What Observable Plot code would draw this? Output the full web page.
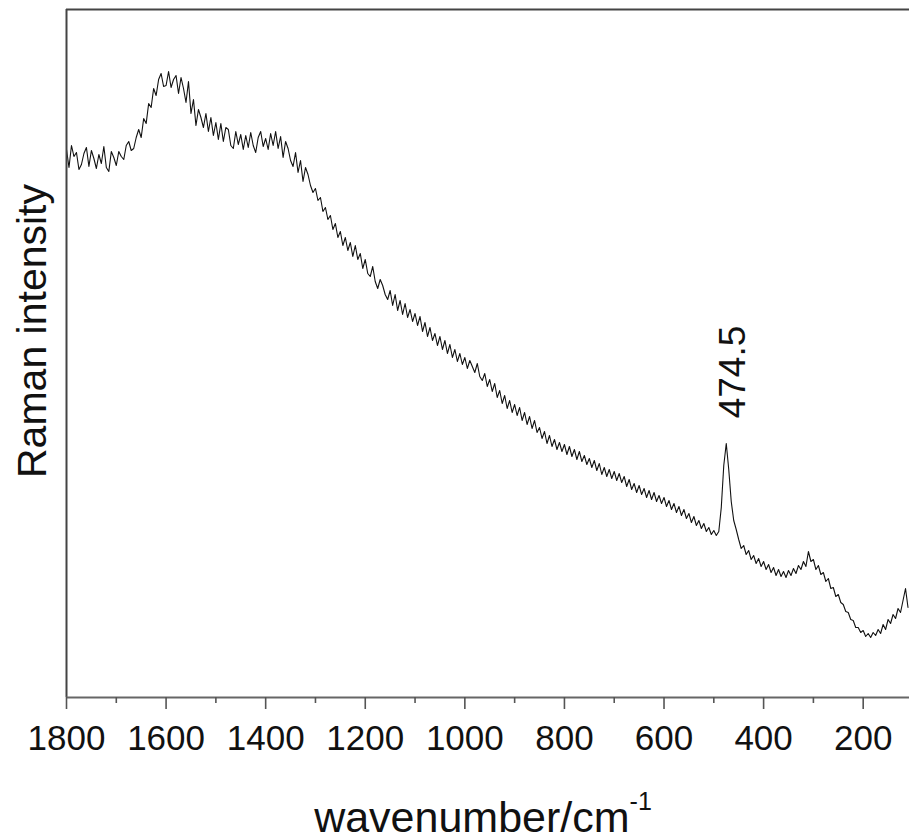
<!DOCTYPE html>
<html>
<head>
<meta charset="utf-8">
<script src="https://cdn.jsdelivr.net/npm/d3@7"></script>
<script src="https://cdn.jsdelivr.net/npm/@observablehq/plot@0.6"></script>
<style>
  body { margin: 0; background: #fff; }
  #chart svg { display: block; }
</style>
</head>
<body>
<div id="chart"></div>
<script>
// Raman spectrum: sampled every 5 cm^-1 from 1800 down to 110 cm^-1 (arbitrary intensity units)
const wnStart = 1800;
const wnStep = 5;
const intensity = [
  548,530,552,541,545,528,533,544,550,531,
  547,539,529,543,534,551,530,526,546,540,
  532,546,541,538,552,556,547,549,560,568,
  560,579,574,594,590,609,602,618,624,611,
  612,626,610,618,622,604,620,609,595,616,
  584,598,572,588,580,570,584,566,580,562,
  575,558,574,556,570,568,552,549,566,553,
  563,548,562,550,565,552,545,560,566,551,
  559,548,564,552,566,549,561,540,556,549,
  537,531,545,525,537,516,530,523,512,505,
  509,497,500,486,490,478,482,468,474,460,
  466,452,460,447,455,441,452,438,444,429,
  438,424,421,431,416,409,418,412,403,398,
  407,392,403,387,397,383,394,380,388,376,
  384,372,381,366,375,361,370,357,364,352,
  361,348,357,344,353,340,348,336,344,333,
  340,329,337,331,325,334,321,317,324,311,
  318,306,314,300,307,294,302,289,297,285,
  293,282,290,277,285,273,281,269,277,265,
  270,259,266,254,262,251,258,248,255,246,
  253,243,251,241,248,238,246,236,242,233,
  239,230,237,227,234,223,230,221,228,219,
  226,217,224,215,221,211,218,208,214,205,
  212,203,209,200,207,198,205,196,202,194,
  200,191,197,188,194,185,191,182,188,179,
  184,175,181,172,177,169,174,166,170,163,
  167,162,166,190,232,254,228,196,177,168,
  158,149,152,143,147,138,142,134,139,131,
  136,128,133,125,130,122,128,121,126,120,
  127,122,129,124,132,128,136,131,146,136,
  138,128,132,123,125,116,119,109,110,101,
  103,95,93,86,85,78,77,70,70,65,
  67,61,64,60,65,62,68,64,73,68,
  78,74,83,79,89,85,97,109,90
];
const wavenumber = intensity.map((_, i) => wnStart - i * wnStep);

const majorTicks = [1800, 1600, 1400, 1200, 1000, 800, 600, 400, 200];
const minorTicks = [1700, 1500, 1300, 1100, 900, 700, 500, 300];
const peakLabel = "474.5";
const peakPosition = 474.5;
const xLabel = "wavenumber/cm";
const xLabelSup = "-1";
const yLabel = "Raman intensity";

const data = wavenumber.map((w, i) => ({ w, v: intensity[i] }));

const font = "'Liberation Sans', Arial, Helvetica, sans-serif";

const plot = Plot.plot({
  width: 909,
  height: 840,
  marginLeft: 66,
  marginRight: 0,
  marginTop: 9,
  marginBottom: 143,
  style: { fontFamily: font, background: "white", color: "#111", overflow: "visible" },
  x: { domain: [1800, 107] },
  y: { domain: [0, 688], axis: null },
  marks: [
    Plot.line(data, { x: "w", y: "v", stroke: "#111", strokeWidth: 1.1 }),
    Plot.ruleX([1800], { stroke: "#444", strokeWidth: 2 }),
    Plot.ruleY([688], { stroke: "#444", strokeWidth: 2 }),
    Plot.ruleY([0], { stroke: "#666", strokeWidth: 2 }),
    Plot.axisX({
      ticks: majorTicks,
      tickSize: 12,
      tickPadding: 16,
      fontSize: 35,
      tickFormat: (d) => String(d),
      label: null,
      stroke: "#555",
      strokeWidth: 1.6,
      fill: "#111"
    }),
    Plot.axisX({
      ticks: minorTicks,
      tickSize: 6,
      tickFormat: () => "",
      label: null,
      stroke: "#555",
      strokeWidth: 1.6
    })
  ]
});

document.getElementById("chart").appendChild(plot);

const svg = d3.select(plot);
const sx = plot.scale("x");
const sy = plot.scale("y");
const peakValue = data.find((d) => d.w === 475).v;

// Peak annotation
svg.append("text")
  .attr("transform", `translate(${sx.apply(peakPosition) + 6},${sy.apply(peakValue) - 71}) rotate(-90)`)
  .attr("text-anchor", "middle")
  .attr("dominant-baseline", "central")
  .attr("font-family", font)
  .attr("font-size", 37)
  .attr("fill", "#111")
  .text(peakLabel);

// Y axis label
svg.append("text")
  .attr("transform", "translate(46,331) rotate(-90)")
  .attr("text-anchor", "middle")
  .attr("font-family", font)
  .attr("font-size", 41)
  .attr("fill", "#111")
  .text(yLabel);

// X axis label with superscript
const xl = svg.append("text")
  .attr("x", 483)
  .attr("y", 832)
  .attr("text-anchor", "middle")
  .attr("font-family", font)
  .attr("font-size", 43)
  .attr("fill", "#111");
xl.append("tspan").text(xLabel);
xl.append("tspan").attr("dy", -22).attr("font-size", 25).text(xLabelSup);
</script>
</body>
</html>
